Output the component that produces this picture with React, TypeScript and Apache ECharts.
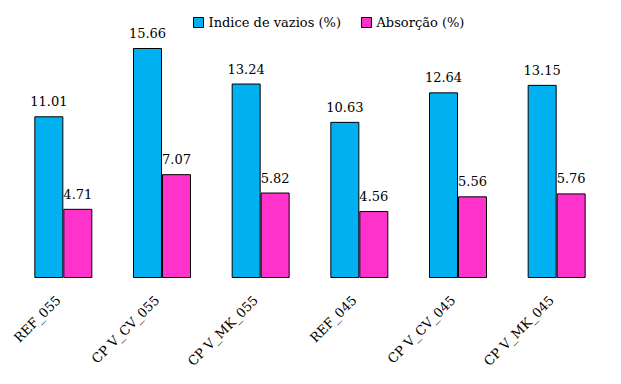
import React, { useEffect, useRef } from "react";
import * as echarts from "echarts";

const categories = ["REF_055", "CP V_CV_055", "CP V_MK_055", "REF_045", "CP V_CV_045", "CP V_MK_045"];
const indiceVazios = [11.01, 15.66, 13.24, 10.63, 12.64, 13.15];
const absorcao = [4.71, 7.07, 5.82, 4.56, 5.56, 5.76];
const seriesNames = ["Indice de vazios (%)", "Absorção (%)"];

const FONT = "DejaVu Serif";

export default function App() {
  const ref = useRef<HTMLDivElement>(null);
  useEffect(() => {
    const chart = echarts.init(ref.current!, null, { renderer: "svg" });
    chart.setOption({
      animation: false,
      textStyle: { fontFamily: FONT },
      legend: {
        top: 11,
        left: 188,
        itemWidth: 10,
        itemHeight: 10,
        itemGap: 20,
        itemStyle: { borderColor: "#000", borderWidth: 1 },
        icon: "rect",
        textStyle: { fontFamily: FONT, fontSize: 13, color: "#000" },
        data: seriesNames,
      },
      grid: { left: 14, right: 15, top: 43, bottom: 106, containLabel: false },
      xAxis: {
        type: "category",
        data: categories,
        axisLine: { show: false },
        axisTick: { show: false },
        axisLabel: {
          rotate: 45,
          margin: 15,
          padding: [0, 7, 0, 0],
          interval: 0,
          fontFamily: FONT,
          fontSize: 13,
          color: "#000",
        },
      },
      yAxis: {
        type: "value",
        min: 0,
        max: 16,
        show: false,
        splitLine: { show: false },
      },
      series: [
        {
          name: seriesNames[0],
          type: "bar",
          data: indiceVazios,
          barWidth: 29,
          barGap: "0%",
          itemStyle: { color: "#00b0f0", borderColor: "#000", borderWidth: 1 },
          label: {
            show: true,
            position: "top",
            distance: 8,
            fontFamily: FONT,
            fontSize: 13,
            color: "#000",
            formatter: (p: any) => p.value.toFixed(2),
          },
        },
        {
          name: seriesNames[1],
          type: "bar",
          data: absorcao,
          barWidth: 29,
          barGap: "0%",
          itemStyle: { color: "#ff33cc", borderColor: "#000", borderWidth: 1 },
          label: {
            show: true,
            position: "top",
            distance: 8,
            fontFamily: FONT,
            fontSize: 13,
            color: "#000",
            formatter: (p: any) => p.value.toFixed(2),
          },
        },
      ],
    });
    return () => chart.dispose();
  }, []);
  return <div ref={ref} style={{ width: 621, height: 384, position: "absolute", left: 0, top: 0 }} />;
}
